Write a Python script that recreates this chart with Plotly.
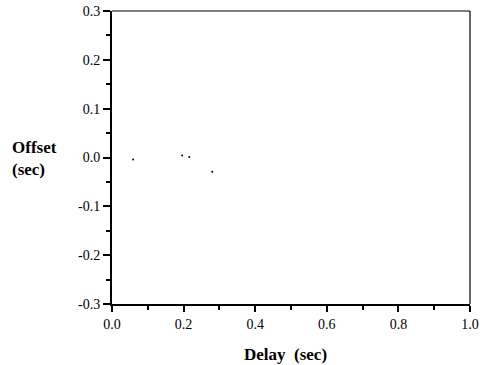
import plotly.graph_objects as go

delay = [0.059, 0.196, 0.216, 0.280]
offset = [-0.004, 0.004, 0.001, -0.029]

x_ticks = [0.0, 0.2, 0.4, 0.6, 0.8, 1.0]
y_ticks = [-0.3, -0.2, -0.1, 0.0, 0.1, 0.2, 0.3]

font = "Liberation Serif"

fig = go.Figure()
fig.add_trace(go.Scatter(x=delay, y=offset, mode="markers",
                         marker=dict(size=2, color="black", line=dict(width=0)),
                         hoverinfo="skip"))

fig.update_layout(
    template="none",
    width=480, height=365,
    margin=dict(l=112, r=10, t=11, b=61),
    paper_bgcolor="white", plot_bgcolor="white",
    showlegend=False,
    font=dict(family=font, size=14, color="black"),
    xaxis=dict(range=[0, 1], tickvals=x_ticks, ticktext=[f"{v:.1f}" for v in x_ticks],
               automargin=False,
               showgrid=False, zeroline=False, showline=True, linecolor="black", linewidth=2,
               ticks="outside", ticklen=6, tickwidth=1.5, tickcolor="black",
               minor=dict(ticks="outside", ticklen=4, dtick=0.1, tick0=0, tickcolor="black", tickwidth=1.5, showgrid=False)),
    yaxis=dict(range=[-0.3, 0.3], tickvals=y_ticks, ticktext=[f"{v:.1f}" for v in y_ticks],
               automargin=False,
               showgrid=False, zeroline=False, showline=True, linecolor="black", linewidth=2,
               ticks="outside", ticklen=7, tickwidth=1.5, tickcolor="black",
               minor=dict(ticks="outside", ticklen=4, dtick=0.05, tick0=0, tickcolor="black", tickwidth=1.5, showgrid=False)),
    shapes=[
        dict(type="line", xref="paper", yref="paper", x0=0, x1=1, y0=1, y1=1,
             line=dict(color="black", width=1.2)),
        dict(type="line", xref="paper", yref="paper", x0=1, x1=1, y0=0, y1=1,
             line=dict(color="black", width=1.2)),
    ],
    annotations=[
        dict(text="<b>Offset<br>(sec)</b>", xref="paper", yref="paper",
             x=-(112 - 10) / 358, y=(304 - 158) / 293, xanchor="left", yanchor="middle", align="left",
             showarrow=False, font=dict(family=font, size=17)),
        dict(text="<b>Delay\u00a0 (sec)</b>", xref="paper", yref="paper",
             x=(285.5 - 112) / 358, y=-(354 - 304) / 293, xanchor="center", yanchor="middle",
             showarrow=False, font=dict(family=font, size=17)),
    ],
)

fig.write_html("out.html")
